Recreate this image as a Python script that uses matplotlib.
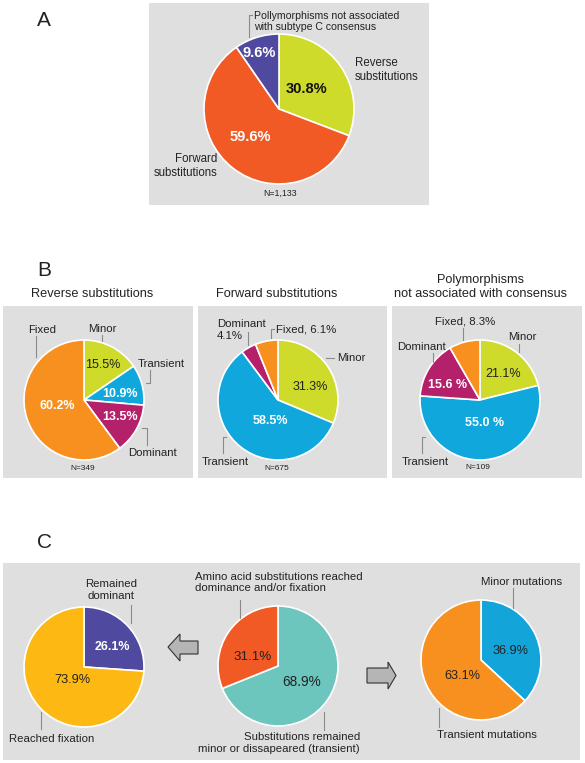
import matplotlib
matplotlib.use("Agg")
import matplotlib.pyplot as plt
from matplotlib.patches import Rectangle, Polygon
from matplotlib.lines import Line2D

# ---------------- data ----------------
a_labels = ["Reverse substitutions", "Forward substitutions",
            "Pollymorphisms not associated with subtype C consensus"]
a_values = [30.8, 59.6, 9.6]
a_n = "N=1,133"

b_categories = ["Minor", "Transient", "Dominant", "Fixed"]
b_reverse = [15.5, 10.9, 13.5, 60.2]
b_forward = [31.3, 58.5, 4.1, 6.1]
b_poly = [21.1, 55.0, 15.6, 8.3]
b_titles = ["Reverse substitutions", "Forward substitutions",
            "Polymorphisms\nnot associated with consensus"]
b_ns = ["N=349", "N=675", "N=109"]

c_left_labels = ["Remained dominant", "Reached fixation"]
c_left_values = [26.1, 73.9]
c_mid_labels = ["Substitutions remained minor or dissapeared (transient)",
                "Amino acid substitutions reached dominance and/or fixation"]
c_mid_values = [68.9, 31.1]
c_right_labels = ["Minor mutations", "Transient mutations"]
c_right_values = [36.9, 63.1]

# ---------------- styling ----------------
W, H = 585, 763
BG = "#DFDFDF"
YG = "#CEDB2A"
RED = "#F15A25"
PURPLE = "#5049A0"
ORANGE = "#F7901E"
CYAN = "#10A8DC"
MAGENTA = "#B5206A"
YELLOW = "#FDB813"
TEAL = "#6CC6BD"
BLUE = "#13A5D9"
TXT = "#222222"
LEAD = "#8A8A8A"
FONT = "Liberation Sans"
plt.rcParams["font.family"] = [FONT, "DejaVu Sans"]

fig = plt.figure(figsize=(W / 100, H / 100), dpi=100)
fig.patch.set_facecolor("white")


def fx(x):
    return x / W


def fy(y):
    return 1 - y / H


def box(x0, y0, x1, y1):
    fig.add_artist(Rectangle((fx(x0), fy(y1)), (x1 - x0) / W, (y1 - y0) / H,
                             transform=fig.transFigure, facecolor=BG,
                             edgecolor="none", zorder=-5))


def text(x, y, s, size=8.2, ha="center", va="center", color=TXT,
         weight="normal", ma=None):
    fig.text(fx(x), fy(y), s, fontsize=size, ha=ha, va=va, color=color,
             fontweight=weight, multialignment=ma or ha, zorder=10,
             linespacing=1.15)


def lead(xs, ys):
    fig.add_artist(Line2D([fx(v) for v in xs], [fy(v) for v in ys],
                          transform=fig.transFigure, color=LEAD, lw=0.8,
                          zorder=10))


def pie(cx, cy, r, values, colors):
    pad = 1.04
    ax = fig.add_axes([fx(cx - r * pad), fy(cy + r * pad),
                       2 * r * pad / W, 2 * r * pad / H])
    ax.pie(values, colors=colors, startangle=90, counterclock=False,
           radius=1, wedgeprops=dict(edgecolor="white", linewidth=1.2))
    ax.set_xlim(-pad, pad)
    ax.set_ylim(-pad, pad)
    ax.set_aspect("auto")
    ax.patch.set_visible(False)
    ax.axis("off")
    return ax


def pct(v, space=False):
    return f"{v:.1f} %" if space else f"{v:.1f}%"


# ---------------- panel A ----------------
text(44, 20, "A", size=15)
box(149, 3, 429, 205)
pie(279, 109, 75, a_values, [YG, RED, PURPLE])
text(307, 89, pct(a_values[0]), size=10.5, weight="bold", color="#111111")
text(250, 137, pct(a_values[1]), size=10.5, weight="bold", color="white")
text(259, 53, pct(a_values[2]), size=10.5, weight="bold", color="white")
text(355, 70, "Reverse\nsubstitutions", ha="left", size=8.3)
text(217, 166, "Forward\nsubstitutions", ha="right", size=8.3)
text(254, 21.5, "Pollymorphisms not associated\nwith subtype C consensus",
     ha="left", size=7.6)
lead([251.5, 249, 249], [15, 15, 37])
text(280, 193, a_n, size=6.3)

# ---------------- panel B ----------------
text(44, 270, "B", size=15)
b_colors = [YG, CYAN, MAGENTA, ORANGE]
b_boxes = [(3, 193), (198, 387), (392, 582)]
b_centers = [84, 278, 480]
for (x0, x1) in b_boxes:
    box(x0, 306, x1, 478)
text(92, 294, b_titles[0], size=9.2)
text(277, 294, b_titles[1], size=9.2)
text(480, 287, b_titles[2], size=9.2)

# B1 reverse
pie(b_centers[0], 400, 60, b_reverse, b_colors)
text(103, 365, pct(b_reverse[0]), size=9)
text(120, 394, pct(b_reverse[1]), size=9, weight="bold", color="white")
text(120, 417, pct(b_reverse[2]), size=9, weight="bold", color="white")
text(57, 406, pct(b_reverse[3]), size=9, weight="bold", color="white")
text(102, 329, b_categories[0])
lead([102, 102], [335, 341])
text(138, 364, b_categories[1], ha="left")
lead([150, 150, 146], [370, 383, 383])
text(128, 453, b_categories[2], ha="left")
lead([142, 147, 147], [428, 428, 445])
text(42, 330, b_categories[3])
lead([36, 36], [336, 357])
text(83, 469, b_ns[0], size=6)

# B2 forward
pie(b_centers[1], 400, 60, b_forward, b_colors)
text(310, 387, pct(b_forward[0]), size=9)
text(270, 421, pct(b_forward[1]), size=9, weight="bold", color="white")
text(337, 358, b_categories[0], ha="left")
lead([326, 334], [358, 358])
text(202, 462, b_categories[1], ha="left")
lead([226, 223, 223], [437, 437, 453])
text(217, 330, f"{b_categories[2]}\n{pct(b_forward[2])}", ha="left")
lead([248, 248], [332, 345])
text(276, 329, f"{b_categories[3]}, {pct(b_forward[3])}", ha="left")
lead([274, 271, 271], [329, 329, 338])
text(277, 469, b_ns[1], size=6)

# B3 polymorphisms
pie(b_centers[2], 400, 60, b_poly, b_colors)
text(503, 374, pct(b_poly[0]), size=9)
text(485, 423, pct(b_poly[1], space=True), size=9, weight="bold",
     color="white")
text(448, 385, pct(b_poly[2], space=True), size=9, weight="bold",
     color="white")
text(522, 337, b_categories[0])
lead([519, 519], [344, 352])
text(402, 462, b_categories[1], ha="left")
lead([425, 422, 422], [437, 437, 453])
text(421, 347, b_categories[2])
lead([433, 433], [353, 362])
text(465, 321, f"{b_categories[3]}, {pct(b_poly[3])}")
lead([463, 463], [328, 340])
text(478, 468, b_ns[2], size=6)

# ---------------- panel C ----------------
text(45, 543, "C", size=15)
box(3, 563, 580, 760)

# left
pie(84, 667, 60, c_left_values, [PURPLE, YELLOW])
text(112, 647, pct(c_left_values[0]), size=9, weight="bold", color="white")
text(72, 680, pct(c_left_values[1]), size=9.2)
text(111, 590, "Remained\ndominant")
lead([131, 131], [605, 623])
text(52, 739, c_left_labels[1])
lead([41, 41], [712, 729])

# middle
pie(278, 666, 60, c_mid_values, [TEAL, RED])
text(302, 682, pct(c_mid_values[0]), size=9.8)
text(253, 657, pct(c_mid_values[1]), size=9.6)
text(360, 743, "Substitutions remained\nminor or dissapeared (transient)",
     ha="right")
lead([324, 324], [712, 730])
text(195, 582.5, "Amino acid substitutions reached\ndominance and/or fixation",
     ha="left")
lead([240, 240], [600, 618])

# right
pie(481, 660, 60, c_right_values, [BLUE, ORANGE])
text(511, 651, pct(c_right_values[0]), size=9.2)
text(462, 676, pct(c_right_values[1]), size=9.2)
text(522, 582, c_right_labels[0])
lead([513, 513], [588, 608])
text(487, 735, c_right_labels[1])
lead([439, 439], [708, 727])

# arrows
left_arrow = [(168, 647), (180, 634), (180, 641), (198, 641), (198, 654),
              (180, 654), (180, 661)]
right_arrow = [(396, 675.5), (388, 662), (388, 668), (367, 668), (367, 683),
               (388, 683), (388, 689)]
for pts in (left_arrow, right_arrow):
    fig.add_artist(Polygon([(fx(x), fy(y)) for x, y in pts], closed=True,
                           transform=fig.transFigure, facecolor="#B5B5B5",
                           edgecolor="#333333", lw=0.8, zorder=10))

fig.savefig("out.png", dpi=100, facecolor="white")
